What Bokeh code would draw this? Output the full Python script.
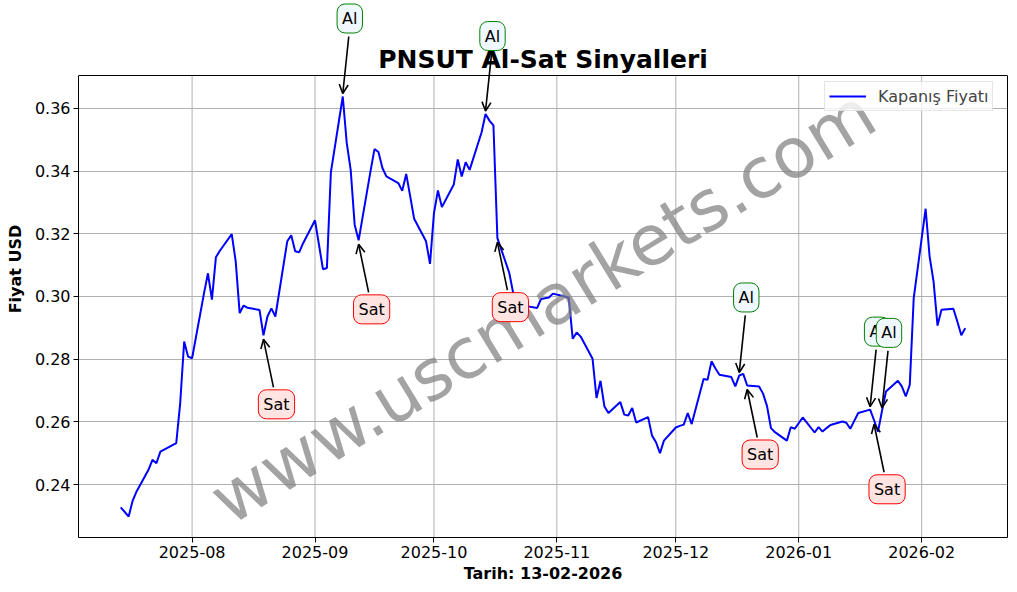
import math
import pandas as pd
from bokeh.plotting import figure
from bokeh.models import (Range1d, Label, Arrow, OpenHead, FixedTicker, LinearAxis, Span,
                          DatetimeTickFormatter, NumeralTickFormatter)
from bokeh.embed import file_html
from bokeh.resources import INLINE

# ---------------- data ----------------
dates = [
    "2025-07-14", "2025-07-16", "2025-07-17", "2025-07-18", "2025-07-21", "2025-07-22", "2025-07-23",
    "2025-07-24", "2025-07-28", "2025-07-29", "2025-07-30", "2025-07-31", "2025-08-01", "2025-08-04",
    "2025-08-05", "2025-08-06", "2025-08-07", "2025-08-08", "2025-08-11", "2025-08-12", "2025-08-13",
    "2025-08-14", "2025-08-15", "2025-08-18", "2025-08-19", "2025-08-20", "2025-08-21", "2025-08-22",
    "2025-08-25", "2025-08-26", "2025-08-27", "2025-08-28", "2025-08-29", "2025-09-01", "2025-09-02",
    "2025-09-03", "2025-09-04", "2025-09-05", "2025-09-08", "2025-09-09", "2025-09-10", "2025-09-11",
    "2025-09-12", "2025-09-15", "2025-09-16", "2025-09-17", "2025-09-18", "2025-09-19", "2025-09-22",
    "2025-09-23", "2025-09-24", "2025-09-25", "2025-09-26", "2025-09-29", "2025-09-30", "2025-10-01",
    "2025-10-02", "2025-10-03", "2025-10-06", "2025-10-07", "2025-10-08", "2025-10-09", "2025-10-10",
    "2025-10-13", "2025-10-14", "2025-10-15", "2025-10-16", "2025-10-17", "2025-10-20", "2025-10-21",
    "2025-10-22", "2025-10-23", "2025-10-24", "2025-10-27", "2025-10-28", "2025-10-30", "2025-10-31",
    "2025-11-03", "2025-11-04", "2025-11-05", "2025-11-06", "2025-11-07", "2025-11-10", "2025-11-11",
    "2025-11-12", "2025-11-13", "2025-11-14", "2025-11-17", "2025-11-18", "2025-11-19", "2025-11-20",
    "2025-11-21", "2025-11-24", "2025-11-25", "2025-11-26", "2025-11-27", "2025-11-28", "2025-12-01",
    "2025-12-02", "2025-12-03", "2025-12-04", "2025-12-05", "2025-12-08", "2025-12-09", "2025-12-10",
    "2025-12-11", "2025-12-12", "2025-12-15", "2025-12-16", "2025-12-17", "2025-12-18", "2025-12-19",
    "2025-12-22", "2025-12-23", "2025-12-24", "2025-12-25", "2025-12-26", "2025-12-29", "2025-12-30",
    "2025-12-31", "2026-01-02", "2026-01-05", "2026-01-06", "2026-01-07", "2026-01-08", "2026-01-09",
    "2026-01-12", "2026-01-13", "2026-01-14", "2026-01-15", "2026-01-16", "2026-01-19", "2026-01-20",
    "2026-01-21", "2026-01-22", "2026-01-23", "2026-01-26", "2026-01-27", "2026-01-28", "2026-01-29",
    "2026-01-30", "2026-02-02", "2026-02-03", "2026-02-04", "2026-02-05", "2026-02-06", "2026-02-09",
    "2026-02-10", "2026-02-11", "2026-02-12",
]
prices = [
    0.2327, 0.2298, 0.2348, 0.2378, 0.2447, 0.2479, 0.2468,
    0.2505, 0.2532, 0.2660, 0.2856, 0.2808, 0.2803, 0.3010,
    0.3074, 0.2990, 0.3125, 0.3146, 0.3199, 0.3112, 0.2947,
    0.2971, 0.2964, 0.2957, 0.2876, 0.2936, 0.2962, 0.2936,
    0.3176, 0.3195, 0.3144, 0.3141, 0.3170, 0.3243, 0.3165,
    0.3087, 0.3091, 0.3396, 0.3638, 0.3490, 0.3404, 0.3229,
    0.3179, 0.3400, 0.3470, 0.3461, 0.3410, 0.3383, 0.3362,
    0.3337, 0.3391, 0.3320, 0.3248, 0.3176, 0.3104, 0.3266,
    0.3338, 0.3285, 0.3357, 0.3437, 0.3383, 0.3428, 0.3404,
    0.3523, 0.3582, 0.3561, 0.3546, 0.3186, 0.3075, 0.3010,
    0.2985, 0.2975, 0.2970, 0.2963, 0.2992, 0.2997, 0.3009,
    0.3000, 0.2995, 0.2865, 0.2885, 0.2872, 0.2801, 0.2676,
    0.2731, 0.2649, 0.2628, 0.2663, 0.2623, 0.2620, 0.2644,
    0.2598, 0.2615, 0.2556, 0.2535, 0.2500, 0.2540, 0.2582,
    0.2587, 0.2591, 0.2628, 0.2593, 0.2737, 0.2734, 0.2793,
    0.2770, 0.2750, 0.2743, 0.2713, 0.2748, 0.2753, 0.2716,
    0.2713, 0.2690, 0.2650, 0.2580, 0.2567, 0.2540, 0.2583,
    0.2578, 0.2614, 0.2566, 0.2583, 0.2569, 0.2580, 0.2590,
    0.2601, 0.2597, 0.2578, 0.2603, 0.2628, 0.2639, 0.2605,
    0.2569, 0.2635, 0.2697, 0.2731, 0.2713, 0.2681, 0.2718,
    0.2995, 0.3280, 0.3128, 0.3048, 0.2907, 0.2958, 0.2961,
    0.2920, 0.2876, 0.2899,
]
al_dates = ["2025-09-08", "2025-10-14", "2025-12-17", "2026-01-19", "2026-01-22"]
sat_dates = ["2025-08-19", "2025-09-12", "2025-10-17", "2025-12-19", "2026-01-20"]
x_ticks = ["2025-08-01", "2025-09-01", "2025-10-01", "2025-11-01", "2025-12-01",
           "2026-01-01", "2026-02-01"]
y_ticks = [0.24, 0.26, 0.28, 0.30, 0.32, 0.34, 0.36]

title_text = "PNSUT Al-Sat Sinyalleri"
x_label = "Tarih: 13-02-2026"
y_label = "Fiyat USD"
legend_text = "Kapanış Fiyatı"
watermark = "www.uscmarkets.com"

# ---------------- layout ----------------
FONT = "DejaVu Sans"
W, H = 1017, 592
ML, MR, MT, MB = 78, 10, 0, 55          # canvas borders
AX_TOP = 75                             # axes box top inside the (taller) frame
FW, FH = W - ML - MR, H - MT - MB       # frame size
AH = FH - AX_TOP                        # axes box height

x = pd.to_datetime(dates)
price_of = dict(zip(dates, prices))
xt = pd.to_datetime(x_ticks)

xmin, xmax = x.min(), x.max()
xpad = (xmax - xmin) * 0.05
x0, x1 = xmin - xpad, xmax + xpad
ymin, ymax = min(prices), max(prices)
ypad = (ymax - ymin) * 0.05
y0, y1 = ymin - ypad, ymax + ypad
PX_Y = (y1 - y0) / AH                  # price per pixel
PX_X = (x1 - x0) / FW                  # time per pixel
ytop = y1 + AX_TOP * PX_Y

p = figure(
    width=W, height=H,
    x_axis_type="datetime",
    x_range=Range1d(x0, x1), y_range=Range1d(y0, ytop),
    output_backend="svg", toolbar_location=None,
    min_border_left=ML, min_border_top=MT, min_border_right=MR, min_border_bottom=MB,
    background_fill_color="white", border_fill_color="white",
)
p.outline_line_color = None

p.xaxis.ticker = FixedTicker(ticks=[t.value // 10**6 for t in xt])
p.xaxis.formatter = DatetimeTickFormatter(
    years="%Y-%m", months="%Y-%m", days="%Y-%m", hours="%Y-%m")
p.yaxis.ticker = FixedTicker(ticks=y_ticks)
p.yaxis.formatter = NumeralTickFormatter(format="0.00")
p.yaxis.bounds = (y0, y1)
p.xgrid.visible = False
p.ygrid.ticker = p.yaxis.ticker
p.ygrid.grid_line_color = "#b0b0b0"
p.ygrid.grid_line_width = 1

for ax in (p.xaxis, p.yaxis):
    ax.major_label_text_font = FONT
    ax.major_label_text_font_size = "16px"
    ax.major_label_text_color = "black"
    ax.axis_label_text_font = FONT
    ax.axis_label_text_font_size = "16px"
    ax.axis_label_text_font_style = "bold"
    ax.axis_label_text_color = "black"
    ax.major_tick_out = 5
    ax.major_tick_in = 0
    ax.minor_tick_out = 0
    ax.minor_tick_in = 0
    ax.axis_line_color = "black"
    ax.major_tick_line_color = "black"
    ax.major_label_standoff = 3
    ax.axis_label_standoff = 3
p.yaxis.axis_label_standoff = 7
p.xaxis.axis_label = x_label
p.yaxis.axis_label = y_label

# right and top edges of the axes box
right_axis = LinearAxis(ticker=FixedTicker(ticks=[]), bounds=(y0, y1),
                        major_tick_out=0, major_tick_in=0, minor_tick_out=0, minor_tick_in=0,
                        major_label_standoff=0, axis_line_color="black")
p.add_layout(right_axis, "right")
p.add_layout(Span(location=y1, dimension="width", line_color="black", line_width=1))

# vertical grid lines limited to the axes box
p.segment(x0=xt, y0=[y0] * len(xt), x1=xt, y1=[y1] * len(xt),
          line_color="#b0b0b0", line_width=1)

p.line(x, prices, color="blue", line_width=2, legend_label=legend_text)

p.legend.location = (FW - 8 - 175, FH - AX_TOP - 8 - 28)
p.legend.label_text_font = FONT
p.legend.label_text_font_size = "16px"
p.legend.glyph_width = 37
p.legend.label_standoff = 12
p.legend.border_line_color = "#cccccc"
p.legend.background_fill_alpha = 0.8
p.legend.margin = 0
p.legend.padding = 4
p.legend.spacing = 0

# title
xc = x0 + (x1 - x0) / 2
p.add_layout(Label(x=xc, y=y1, y_offset=16, text=title_text, text_font=FONT,
                   text_font_size="25px", text_font_style="bold", text_color="black",
                   text_align="center", text_baseline="middle"))

# watermark
yc = (y0 + y1) / 2
p.add_layout(Label(x=xc, y=yc, text=watermark, text_font=FONT, text_font_size="70px",
                   text_color="gray", text_alpha=0.72, text_align="center",
                   text_baseline="middle", angle=math.radians(31.5)))


def annotate(d, txt, up, edge, fill):
    t = pd.Timestamp(d)
    v = price_of[d]
    if up:
        xs, ys, ye = t + 6 * PX_X, v + 60 * PX_Y, v + 3 * PX_Y
        dx, dy = 7, 78
    else:
        xs, ys, ye = t + 10 * PX_X, v - 52 * PX_Y, v - 4 * PX_Y
        dx, dy = 13, -69
    p.add_layout(Arrow(end=OpenHead(size=9, line_width=1.6, line_color="black"),
                       x_start=xs, y_start=ys, x_end=t, y_end=ye,
                       line_color="black", line_width=1.6))
    p.add_layout(Label(x=t, y=v, x_offset=dx, y_offset=dy, text=txt,
                       text_font=FONT, text_font_size="16px", text_color="black",
                       text_align="center", text_baseline="middle",
                       background_fill_color=fill, background_fill_alpha=1,
                       border_line_color=edge, border_line_width=1,
                       padding=5, border_radius=8))


for d in sat_dates:
    annotate(d, "Sat", False, "red", "#ffe4e1")
for d in al_dates:
    annotate(d, "Al", True, "green", "#f0f8ff")

open("out.html", "w").write(file_html(p, INLINE))
